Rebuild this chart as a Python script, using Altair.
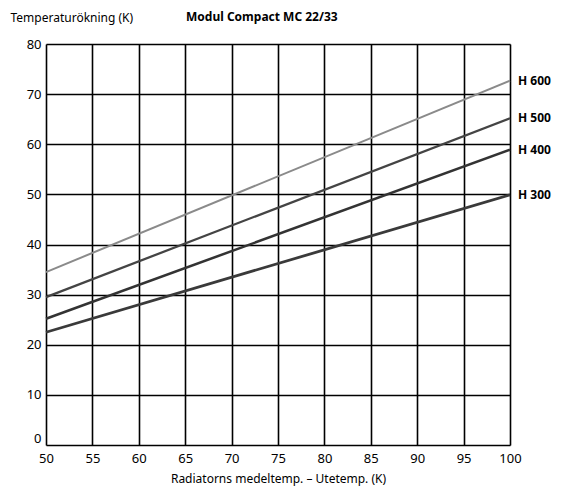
import altair as alt
import pandas as pd

series = ["H 600", "H 500", "H 400", "H 300"]
x_start = [50, 50, 50, 50]
x_end = [100, 100, 100, 100]
y_start = [34.5, 29.5, 25.2, 22.5]
y_end = [72.7, 65.2, 58.9, 49.9]
colors = ["#8a8a8a", "#444444", "#333333", "#3a3a3a"]
widths = [2.0, 2.8, 3.0, 3.0]

rows = []
for s, xs, xe, ys, ye in zip(series, x_start, x_end, y_start, y_end):
    rows.append({"serie": s, "x": xs, "y": ys})
    rows.append({"serie": s, "x": xe, "y": ye})
df = pd.DataFrame(rows)
ends = pd.DataFrame({"serie": series, "x": x_end, "y": y_end})

FONT = "Noto Sans"
W, H = 464, 401

xscale = alt.Scale(domain=[50, 100], nice=False, zero=False)
yscale = alt.Scale(domain=[0, 80], nice=False)

xaxis = alt.Axis(values=list(range(50, 101, 5)), grid=True, gridColor="black",
                 gridWidth=1.6, gridOpacity=1, ticks=False, labelPadding=7,
                 labelFontSize=13, labelFont=FONT, labelColor="black",
                 domain=False, title="Radiatorns medeltemp. – Utetemp. (K)",
                 titleFont=FONT, titleFontSize=12, titleFontWeight="normal",
                 titlePadding=8, titleColor="black", labelFlush=False)
yaxis = alt.Axis(values=list(range(0, 81, 5)), grid=True, gridColor="black",
                 gridWidth=1.6, gridOpacity=1, ticks=False, labelPadding=5,
                 labelExpr="datum.value % 10 == 0 ? datum.label : ''",
                 labelBaseline={"expr": "datum.value == 0 ? 'bottom' : 'middle'"},
                 labelFontSize=13, labelFont=FONT, labelColor="black",
                 domain=False, title="Temperaturökning (K)", titleAngle=0,
                 titleAlign="left", titleBaseline="middle", titleX=-36, titleY=-27,
                 titleFont=FONT, titleFontSize=12, titleFontWeight="normal",
                 titleColor="black", labelFlush=False)

lines = alt.Chart(df).mark_line().encode(
    x=alt.X("x:Q", scale=xscale, axis=xaxis),
    y=alt.Y("y:Q", scale=yscale, axis=yaxis),
    color=alt.Color("serie:N", scale=alt.Scale(domain=series, range=colors), legend=None),
    strokeWidth=alt.StrokeWidth("serie:N", scale=alt.Scale(domain=series, range=widths), legend=None),
    detail="serie:N",
)

labels = alt.Chart(ends).mark_text(align="left", baseline="middle", dx=8,
                                    font=FONT, fontSize=12, fontWeight="bold",
                                    color="black").encode(
    x=alt.X("x:Q", scale=xscale),
    y=alt.Y("y:Q", scale=yscale),
    text="serie:N",
)

title_df = pd.DataFrame({"t": ["Modul Compact MC 22/33"]})
title = alt.Chart(title_df).mark_text(align="left", baseline="middle", font=FONT,
                                       fontSize=12, fontWeight="bold", color="black").encode(
    x=alt.value(140), y=alt.value(-27), text="t:N")

chart = alt.layer(lines, labels, title).properties(
    width=W, height=H,
    autosize=alt.AutoSizeParams(type="none"),
    padding={"left": 38, "top": 36, "right": 44, "bottom": 44},
).configure_view(stroke="black", strokeWidth=2).configure(background="white")

chart.save("out.html", embed_options={"renderer": "svg", "actions": False})
